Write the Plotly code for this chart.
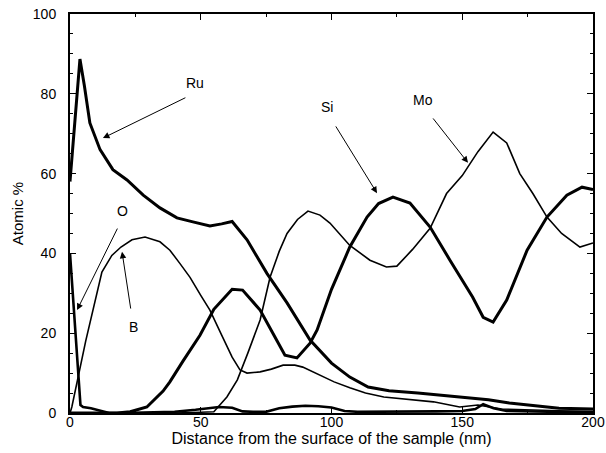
import plotly.graph_objects as go

# ---- data ----
ru_x = [0, 1, 2, 3.8, 5.5, 7.6, 11.5, 16.4, 21.8, 28, 34.4, 40.9, 47, 53.5, 58, 62, 67.7, 75.3, 83, 91.8,
        100, 107, 114, 122, 133, 149, 160, 168, 178, 187, 200]
ru_y = [58, 66, 75, 88.7, 82, 72.7, 66, 61, 58.4, 54.6, 51.4, 48.9, 47.9, 46.9, 47.4, 48, 43.4, 35, 27.6, 18.3,
        12.5, 9, 6.5, 5.6, 5, 4, 3.3, 2.5, 1.8, 1.2, 1]

o_x = [0, 1, 2, 3, 4, 5, 8, 12, 15, 20, 30, 40, 48, 53, 57, 62, 66, 70, 75, 80, 85, 90, 95, 100, 105, 110,
       120, 130, 140, 150, 155, 158, 162, 167, 175, 185, 200]
o_y = [40, 30.5, 21, 11.5, 2, 1.5, 1.2, 0.5, 0, 0, 0.2, 0.3, 0.8, 1.2, 1.5, 1.3, 0.4, 0.3, 0.3, 1.2, 1.6, 1.8,
       1.7, 1.4, 0.5, 0.3, 0.3, 0.3, 0.4, 0.5, 1.0, 2.2, 1.2, 0.5, 0.4, 0.3, 0.3]

b_x = [0, 0.7, 6, 12.2, 16, 19.5, 23.7, 28.7, 34.4, 38.2, 42, 45.9, 50, 53.5, 58, 62, 65, 67.7, 72.7, 77,
       81.5, 86, 89, 95.6, 101, 107, 113, 120, 130, 139, 149, 156, 165, 175, 185, 200]
b_y = [0, 1.5, 18, 35.3, 39.5, 41.6, 43.4, 44.1, 42.9, 40.8, 37.5, 34, 29.5, 25.8, 19.5, 14, 10.8, 10, 10.3,
       11, 12, 12, 11.5, 9.5, 7.8, 6.3, 5, 4, 3.3, 2.8, 1.5, 2, 1, 0.8, 0.5, 0.3]

si_x = [0, 10, 18, 23, 29.4, 35.6, 38.2, 43.2, 49.7, 55, 62, 66, 72.7, 78, 82.2, 86.8, 91.8, 94.5, 100, 107,
        113.6, 118, 123.5, 130, 137.7, 145.3, 154, 158, 161.8, 167, 174.8, 182.4, 190, 195.8, 200]
si_y = [0, 0, 0, 0.3, 1.5, 5.5, 7.8, 13, 19.5, 26, 31, 30.8, 25.8, 19.5, 14.5, 13.8, 17.5, 20.8, 31, 41.6,
        49.1, 52.5, 54.1, 52.6, 46.6, 38.3, 29, 24, 22.8, 28.3, 40.8, 49.1, 54.6, 56.6, 56]

mo_x = [0, 20, 40, 50, 55, 60, 64, 68, 72.7, 76.5, 80, 83, 87, 91, 95.6, 99.4, 107, 114.7, 121, 125, 131,
        137.7, 144, 150, 156, 161.8, 167, 172, 177, 182.4, 188, 195, 200]
mo_y = [0, 0, 0, 0.2, 0.3, 4, 8.3, 15, 23.3, 34, 40.5, 45, 48.5, 50.6, 49.6, 47.6, 42, 38.3, 36.6, 36.8, 41,
        46.3, 55, 59.5, 65.5, 70.4, 67.7, 60, 55, 49.1, 45, 41.6, 42.6]

# labels: (text, label x, label y, arrow tail x, tail y, head x, head y)
labels = [
    ("Ru", 47.8, 82.7, 44.7, 79.2, 12.6, 68.9),
    ("O", 19.9, 50.6, 18.4, 46.6, 2.7, 25.8),
    ("B", 24.1, 21.6, 23.3, 25.8, 19.9, 40.4),
    ("Si", 98.3, 76.7, 101.3, 72.2, 117.4, 55.1),
    ("Mo", 135.0, 78.4, 138.4, 74.2, 152.2, 62.7),
]

x_ticks = [0, 50, 100, 150, 200]
y_ticks = [0, 20, 40, 60, 80, 100]

FONT = "Liberation Sans, Arial, sans-serif"

fig = go.Figure()
series = [
    ("B", b_x, b_y, 1.6),
    ("Mo", mo_x, mo_y, 1.6),
    ("O", o_x, o_y, 2.6),
    ("Si", si_x, si_y, 3.0),
    ("Ru", ru_x, ru_y, 3.0),
]
for name, xs, ys, w in series:
    fig.add_trace(go.Scatter(x=xs, y=ys, mode="lines", name=name,
                             line=dict(color="black", width=w), showlegend=False,
                             hoverinfo="skip"))

for text, lx, ly, tx, ty, hx, hy in labels:
    fig.add_annotation(x=lx, y=ly, text=text, showarrow=False,
                       font=dict(family=FONT, size=14, color="black"))
    fig.add_annotation(x=hx, y=hy, ax=tx, ay=ty, xref="x", yref="y", axref="x", ayref="y",
                       text="", showarrow=True, arrowhead=2, arrowsize=1.3, arrowwidth=1,
                       arrowcolor="black", standoff=0, startstandoff=0)

axis_common = dict(showline=True, linecolor="black", linewidth=2, mirror="ticks",
                   ticks="inside", ticklen=6, tickcolor="black", tickwidth=1,
                   showgrid=False, zeroline=False, automargin=False,
                   tickfont=dict(family=FONT, size=14, color="black"))

fig.update_xaxes(range=[0, 200], tickvals=x_ticks, ticktext=[str(v) for v in x_ticks],
                 minor=dict(ticks="inside", ticklen=3, dtick=25, tickcolor="black", showgrid=False),
                 title=dict(text="Distance from the surface of the sample (nm)",
                            font=dict(family=FONT, size=16, color="black"), standoff=0),
                 ticklabelstandoff=-5, **axis_common)
fig.update_yaxes(range=[0, 100], tickvals=y_ticks, ticktext=[str(v) for v in y_ticks],
                 minor=dict(ticks="inside", ticklen=3, dtick=5, tickcolor="black", showgrid=False),
                 title=dict(text="Atomic %", font=dict(family=FONT, size=15, color="black"),
                            standoff=6),
                 ticklabelstandoff=9, **axis_common)

fig.update_layout(width=606, height=453, margin=dict(l=70, r=13, t=14, b=40),
                  paper_bgcolor="white", plot_bgcolor="white",
                  font=dict(family=FONT, color="black"))

fig.write_html("out.html")
